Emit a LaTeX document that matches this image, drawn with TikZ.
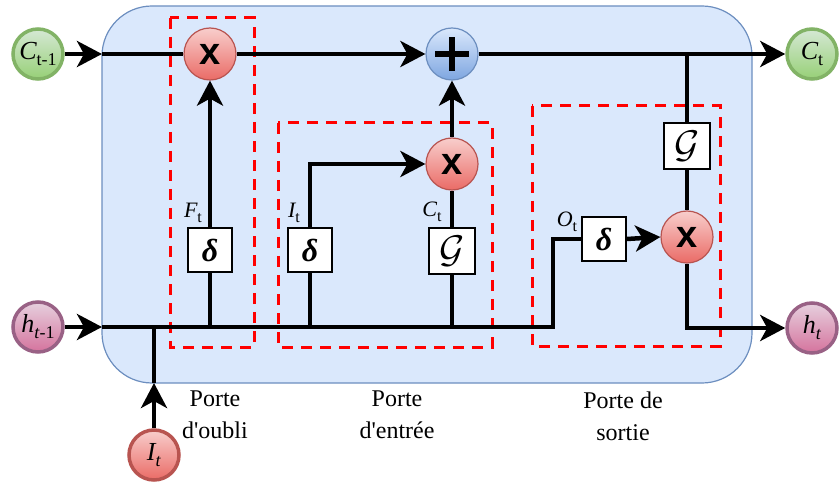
\documentclass[tikz,border=0pt]{standalone}
\usepackage{fontspec}
\setmainfont{Liberation Serif}[Ligatures=TeXOff]
\setsansfont{Liberation Sans}
\usetikzlibrary{arrows.meta}

\definecolor{cellfill}{HTML}{DAE8FC}
\definecolor{cellline}{HTML}{6C8EBF}
\definecolor{gatered}{HTML}{FF0000}
\definecolor{greentop}{HTML}{D5E8D4}
\definecolor{greenbot}{HTML}{97D077}
\definecolor{greenline}{HTML}{82B366}
\definecolor{pinktop}{HTML}{E6D0DE}
\definecolor{pinkbot}{HTML}{D5739D}
\definecolor{pinkline}{HTML}{996185}
\definecolor{redtop}{HTML}{F8CECC}
\definecolor{redbot}{HTML}{EA6B66}
\definecolor{redline}{HTML}{B85450}
\definecolor{bluetop}{HTML}{DAE8FC}
\definecolor{bluebot}{HTML}{7EA6E0}

% labels: italic letter with a lowered subscript
\newcommand\circlbl[2]{{\itshape #1}\raisebox{-6pt}{\fontsize{18}{18}\selectfont #2}}
\newcommand\gatelbl[2]{{\fontsize{22}{22}\selectfont\itshape #1}\raisebox{-4.5pt}{\fontsize{16}{16}\selectfont #2}}
\newcommand\mulsign{{\fontsize{38}{38}\selectfont\sffamily\bfseries x}}
\newcommand\sigsign{{\fontsize{32}{32}\selectfont\bfseries\itshape δ}}
\newcommand\tanhsign{{\fontsize{24}{24}\selectfont\scalebox{1.55}{$\mathcal{G}$}}}

\tikzset{
  wire/.style={line width=4.5pt, black},
  arr/.style={-{Stealth[length=25pt,width=26pt,inset=7pt]}},
  io/.style={circle, minimum size=50pt, inner sep=0pt, line width=3.5pt,
             font=\fontsize{26}{26}\selectfont},
  iogreen/.style={io, draw=greenline, top color=greentop, bottom color=greenbot},
  iopink/.style={io, draw=pinkline, top color=pinktop, bottom color=pinkbot},
  iored/.style={io, draw=redline, top color=redtop, bottom color=redbot},
  opnode/.style={circle, minimum size=52pt, inner sep=0pt, line width=1.2pt},
  mulnode/.style={opnode, draw=redline, top color=redtop, bottom color=redbot},
  addnode/.style={opnode, draw=cellline, top color=bluetop, bottom color=bluebot},
  actbox/.style={draw=black, fill=white, line width=1.2pt, inner sep=0pt,
                 minimum width=44pt, minimum height=44pt},
  gatebox/.style={draw=gatered, line width=3pt, dash pattern=on 11pt off 8pt},
  caption/.style={align=center, font=\fontsize{24}{32}\selectfont},
}

\begin{document}
\begin{tikzpicture}[x=1pt, y=-1pt]
\useasboundingbox (0,0) rectangle (840,486);

% LSTM cell body
\draw[fill=cellfill, draw=cellline, line width=1.2pt, rounded corners=50pt]
  (102,6) rectangle (752,383);

% gate outlines
\draw[gatebox] (170,18) rectangle (254,347);
\draw[gatebox] (278,123) rectangle (492,347);
\draw[gatebox] (532,106) rectangle (720,346);

% inputs and outputs
\node[iogreen] (Cin)  at (38,54)  {\circlbl{C}{t-1}};
\node[iogreen] (Cout) at (812,54) {\circlbl{C}{t}};
\node[iopink]  (hin)  at (38,327) {\circlbl{h}{\textit{t}-1}};
\node[iopink]  (hout) at (812,328) {\circlbl{h}{\textit{t}}};
\node[iored]   (It)   at (154,455) {\circlbl{I}{\textit{t}}};

% pointwise operations
\node[mulnode] (fx)   at (210,54)  {\mulsign};
\node[addnode] (plus) at (452,54)  {};
\draw[line width=5.5pt] ([xshift=-17pt]plus.center) -- ([xshift=17pt]plus.center);
\draw[line width=5.5pt] ([yshift=-17pt]plus.center) -- ([yshift=17pt]plus.center);
\node[mulnode] (ix)   at (452,164) {\mulsign};
\node[mulnode] (ox)   at (687,237) {\mulsign};

% activation layers
\node[actbox] (fs) at (210,250) {\sigsign};
\node[actbox] (is) at (310,250) {\sigsign};
\node[actbox, minimum width=46pt, minimum height=46pt] (ig) at (452,251) {\tanhsign};
\node[actbox] (os) at (604,239) {\sigsign};
\node[actbox, minimum width=46pt, minimum height=46pt] (og) at (687,146) {\tanhsign};

% gate signal labels
\node (Ft) at (193,213) {\gatelbl{F}{t}};
\node (Itl) at (294,213) {\gatelbl{I}{t}};
\node (Ctl) at (432,212) {\gatelbl{C}{t}};
\node (Otl) at (567,222) {\gatelbl{O}{t}};

% points where the wires cross the cell border
\coordinate (cEntry)  at (102,54);
\coordinate (hEntry)  at (102,327);
\coordinate (iEntry)  at (154,383);
\coordinate (hTurn)   at (553,327);
\coordinate (ogTop)   at (687,54);

% cell state line
\draw[wire, arr] (Cin) -- (cEntry);
\draw[wire] (cEntry) -- (fx);
\draw[wire, arr] (fx) -- (plus);
\draw[wire, arr] (plus) -- (Cout);

% hidden state and input line
\draw[wire, arr] (hin) -- (hEntry);
\draw[wire] (hEntry) -- (hTurn) |- (os.west);
\draw[wire, arr] (It) -- (iEntry);
\draw[wire] (iEntry) -- (iEntry |- hEntry);

% forget gate
\draw[wire] (fs.south) -- (fs.south |- hEntry);
\draw[wire, arr] (fs.north) -- (fx.south);

% input gate
\draw[wire] (is.south) -- (is.south |- hEntry);
\draw[wire, arr] (is.north) |- (ix.west);
\draw[wire] (ig.south) -- (ig.south |- hEntry);
\draw[wire] (ig.north) -- (ix.south);
\draw[wire, arr] (ix.north) -- (plus.south);

% output gate
\draw[wire, arr] (os.east) -- (ox.west);
\draw[wire] (ogTop) -- (og.north);
\draw[wire] (og.south) -- (ox.north);
\draw[wire, arr] (ox.south) |- (hout);

% gate captions
\node[caption] (capf) at (215,415) {Porte\\d'oubli};
\node[caption] (capi) at (397,415) {Porte\\d'entrée};
\node[caption] (capo) at (623,416) {Porte de\\sortie};
\end{tikzpicture}
\end{document}
